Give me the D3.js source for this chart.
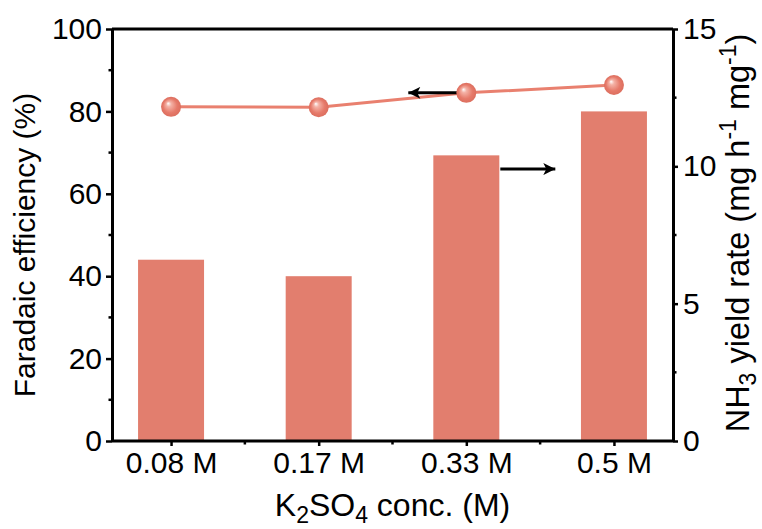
<!DOCTYPE html>
<html><head><meta charset="utf-8">
<script src="https://cdn.jsdelivr.net/npm/d3@7"></script>
<style>body{margin:0;background:#fff}svg{display:block}text{font-family:Arial,"Liberation Sans",sans-serif;fill:#000}</style>
</head><body><svg id="c" width="762" height="529"></svg>
<script>
const categories = ["0.08 M","0.17 M","0.33 M","0.5 M"];
const yieldRate = [6.6, 6.0, 10.4, 12.0];
const faradaicEff = [81.1, 81.0, 84.5, 86.4];
const leftTicks = [0,20,40,60,80,100];
const rightTicks = [0,5,10,15];

const W=762,H=529, m={l:112,r:89,t:29,b:88};
const svg=d3.select("#c");
const x=d3.scalePoint().domain(categories).range([m.l,W-m.r]).padding(0.4);
const yL=d3.scaleLinear().domain([0,100]).range([H-m.b,m.t]);
const yR=d3.scaleLinear().domain([0,15]).range([H-m.b,m.t]);
const bw=x.step()*0.447;
const barColor="#e27e6e", lineColor="#e9806f";

const defs=svg.append("defs");
const g=defs.append("radialGradient").attr("id","sph").attr("cx","50%").attr("cy","50%").attr("r","50%").attr("fx","35%").attr("fy","32%");
g.append("stop").attr("offset","0%").attr("stop-color","#ffffff");
g.append("stop").attr("offset","25%").attr("stop-color","#f4b2a6");
g.append("stop").attr("offset","70%").attr("stop-color","#e67a6a");
g.append("stop").attr("offset","100%").attr("stop-color","#dc6e5e");
defs.append("marker").attr("id","ah").attr("viewBox","0 0 10 10").attr("refX",10).attr("refY",5)
 .attr("markerWidth",16).attr("markerHeight",12).attr("markerUnits","userSpaceOnUse").attr("orient","auto")
 .append("path").attr("d","M0,0L10,5L0,10L2.5,5Z").attr("fill","#000");

// bars
svg.append("g").selectAll("rect").data(categories).join("rect")
 .attr("x",d=>x(d)-bw/2).attr("width",bw)
 .attr("y",(d,i)=>yR(yieldRate[i])).attr("height",(d,i)=>yR(0)-yR(yieldRate[i]))
 .attr("fill",barColor);

// line
svg.append("path").datum(categories).attr("fill","none").attr("stroke",lineColor).attr("stroke-width",3)
 .attr("d",d3.line().x(d=>x(d)).y((d,i)=>yL(faradaicEff[i])));

// arrows
const c3=categories[2];
svg.append("line").attr("x1",x(c3)-8).attr("x2",x(c3)-58).attr("y1",yL(faradaicEff[2])).attr("y2",yL(faradaicEff[2]))
 .attr("stroke","#000").attr("stroke-width",3).attr("marker-end","url(#ah)");
svg.append("line").attr("x1",x(c3)+bw/2+1).attr("x2",x(c3)+bw/2+56).attr("y1",yR(9.9)).attr("y2",yR(9.9))
 .attr("stroke","#000").attr("stroke-width",3).attr("marker-end","url(#ah)");

// markers
svg.append("g").selectAll("circle").data(categories).join("circle")
 .attr("cx",d=>x(d)).attr("cy",(d,i)=>yL(faradaicEff[i])).attr("r",10).attr("fill","url(#sph)");

// frame
svg.append("line").attr("x1",m.l).attr("x2",W-m.r).attr("y1",m.t).attr("y2",m.t).attr("stroke","#000").attr("stroke-width",3);

function styleAxis(sel){
 sel.select(".domain").attr("stroke","#000").attr("stroke-width",3);
 sel.selectAll(".tick line").attr("stroke","#000").attr("stroke-width",2.5);
 sel.selectAll(".tick text").style("font-size","30px").style("font-family","Arial,'Liberation Sans',sans-serif");
}
// minor ticks
const minorL=d3.range(10,100,20), minorR=[2.5,7.5,12.5];
const ax=svg.append("g");
ax.selectAll(".ml").data(minorL).join("line").attr("x1",m.l).attr("x2",m.l-3.5).attr("y1",d=>yL(d)).attr("y2",d=>yL(d)).attr("stroke","#000").attr("stroke-width",2.5);
ax.selectAll(".mr").data(minorR).join("line").attr("x1",W-m.r).attr("x2",W-m.r+3.5).attr("y1",d=>yR(d)).attr("y2",d=>yR(d)).attr("stroke","#000").attr("stroke-width",2.5);
const mids=d3.pairs(categories).map(([a,b])=>(x(a)+x(b))/2);
ax.selectAll(".mb").data(mids).join("line").attr("x1",d=>d).attr("x2",d=>d).attr("y1",H-m.b).attr("y2",H-m.b+3.5).attr("stroke","#000").attr("stroke-width",2.5);

const gL=svg.append("g").attr("transform",`translate(${m.l},0)`).call(d3.axisLeft(yL).tickValues(leftTicks).tickSize(6).tickPadding(4).tickSizeOuter(0));
styleAxis(gL);
const gR=svg.append("g").attr("transform",`translate(${W-m.r},0)`).call(d3.axisRight(yR).tickValues(rightTicks).tickSize(5).tickPadding(5).tickSizeOuter(0));
styleAxis(gR);
const gB=svg.append("g").attr("transform",`translate(0,${H-m.b})`).call(d3.axisBottom(x).tickSize(5).tickPadding(6).tickSizeOuter(0));
styleAxis(gB);
gB.select(".domain").attr("d",`M${m.l},0H${W-m.r}`);

// titles
svg.append("text").attr("transform",`translate(35,${(m.t+H-m.b)/2+10}) rotate(-90)`).attr("text-anchor","middle").style("font-size","30px").text("Faradaic efficiency (%)");
const tR=svg.append("text").attr("transform",`translate(749,${(m.t+H-m.b)/2-2}) rotate(-90)`).attr("text-anchor","middle").style("font-size","32.5px");
tR.append("tspan").text("NH");
tR.append("tspan").attr("dy",7).style("font-size","23px").text("3");
tR.append("tspan").attr("dy",-7).text(" yield rate (mg h");
tR.append("tspan").attr("dy",-13).style("font-size","23px").text("-1");
tR.append("tspan").attr("dy",13).text(" mg");
tR.append("tspan").attr("dy",-13).style("font-size","23px").text("-1");
tR.append("tspan").attr("dy",13).text(")");
const tB=svg.append("text").attr("x",(m.l+W-m.r)/2).attr("y",516).attr("text-anchor","middle").style("font-size","32px");
tB.append("tspan").text("K");
tB.append("tspan").attr("dy",7).style("font-size","23px").text("2");
tB.append("tspan").attr("dy",-7).text("SO");
tB.append("tspan").attr("dy",7).style("font-size","23px").text("4");
tB.append("tspan").attr("dy",-7).text(" conc. (M)");
</script></body></html>
